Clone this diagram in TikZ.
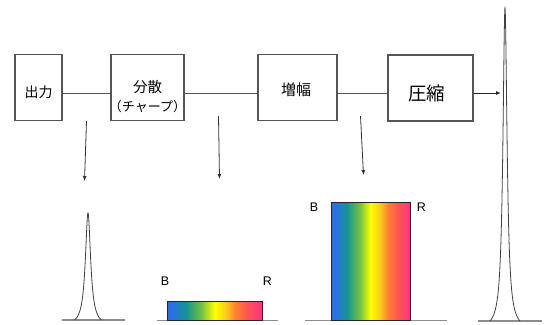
\documentclass[tikz,border=0pt]{standalone}
\usepackage{fontspec}
\setmainfont{Liberation Sans}
\newfontfamily\jp{Noto Sans CJK JP}
\usetikzlibrary{arrows.meta}
\definecolor{boxline}{HTML}{555555}
\definecolor{baseg}{HTML}{8C8C8C}
\definecolor{peakc}{HTML}{404040}
\pgfdeclarehorizontalshading{spectrum}{100bp}{%
  rgb(0bp)=(0.18,0.42,0.92);
  rgb(25bp)=(0.18,0.42,0.92);
  rgb(28bp)=(0.16,0.45,0.88);
  rgb(35bp)=(0.08,0.58,0.56);
  rgb(43bp)=(0.45,0.75,0.25);
  rgb(50bp)=(1,1,0);
  rgb(56bp)=(1,0.78,0.13);
  rgb(61bp)=(1,0.5,0.2);
  rgb(67bp)=(1,0.33,0.33);
  rgb(75bp)=(1,0.2,0.52);
  rgb(100bp)=(1,0.2,0.52)}
\tikzset{
  box/.style={draw=boxline, line width=1.1pt, fill=white, inner sep=0pt},
  jptext/.style={font=\jp, inner sep=0pt, align=center},
  link/.style={draw=boxline, line width=0.9pt},
  downarrow/.style={draw=black!80, line width=0.8pt, -{Latex[length=5pt,width=4pt]}},
  baseline/.style={draw=baseg, line width=1.5pt},
  peak/.style={draw=peakc, line width=0.8pt},
  bar/.style={draw=black!85, line width=0.8pt, shading=spectrum},
  lbl/.style={font=\fontsize{12.5}{14}\selectfont, inner sep=0pt}
}
\begin{document}
\begin{tikzpicture}[x=1pt,y=-1pt]
\useasboundingbox (0,0) rectangle (546,324);
% boxes
\node[box, minimum width=47pt, minimum height=66pt] (out) at (38.5,87.5) {};
\node[box, minimum width=73pt, minimum height=66pt] (disp) at (147.5,87.5) {};
\node[box, minimum width=79pt, minimum height=66pt] (amp) at (297.5,87.5) {};
\node[box, minimum width=85pt, minimum height=66pt] (comp) at (430.5,88) {};
% texts
\node[jptext, font=\jp\fontsize{14}{16}\selectfont] (outT) at (38.5,92) {出力};
\node[jptext, font=\jp\fontsize{14.5}{16}\selectfont] (dispT1) at (147.5,87) {分散};
\node[jptext, font=\jp\fontsize{13}{15}\selectfont] (dispT2) at (147.5,107) {（チャープ）};
\node[jptext, font=\jp\fontsize{15}{17}\selectfont] (ampT) at (296,90) {増幅};
\node[jptext, font=\jp\fontsize{18.5}{20}\selectfont] (compT) at (426.5,93) {圧縮};
% links
\coordinate (ly) at (0,93);
\draw[link] (out.east |- ly) -- (disp.west |- ly);
\draw[link] (disp.east |- ly) -- (amp.west |- ly);
\draw[link] (amp.east |- ly) -- (comp.west |- ly);
\coordinate (p5in) at (501,93);
\draw[draw=black!85, line width=0.9pt, -{Latex[length=5pt,width=4pt]}] (comp.east |- ly) -- (p5in);
% down arrows
\coordinate (a1s) at (86.5,121);
\coordinate (a1e) at (84.5,181);
\coordinate (a2s) at (218.5,116);
\coordinate (a2e) at (219.5,179);
\coordinate (a3s) at (360.5,116);
\coordinate (a3e) at (363.5,175);
\draw[downarrow] (a1s) -- (a1e);
\draw[downarrow] (a2s) -- (a2e);
\draw[downarrow] (a3s) -- (a3e);
% peak 1
\draw[baseline] (62,320) -- (125,320);
\draw[peak] plot[domain=-13.5:13.5, samples=161, smooth]
  ({88+\x}, {320 - 107*(1/(1+(\x/3.2)*(\x/3.2)) - 0.05319)/(1-0.05319)});
% bar 1
\draw[baseline] (157,320.5) -- (278,320.5);
\path[bar] (167,301) rectangle (262,320);
\node[lbl] (b1) at (165,281.5) {B};
\node[lbl] (r1) at (267.5,281.5) {R};
% bar 2
\draw[baseline] (305,320.5) -- (447,320.5);
\path[bar] (331,202) rectangle (410,320);
\node[lbl] (b2) at (314,207.5) {B};
\node[lbl] (r2) at (421.5,207.5) {R};
% peak 5
\draw[baseline] (478,321) -- (542,321);
\draw[peak] plot[domain=-15:15, samples=301, smooth]
  ({505+\x}, {321 - 313*(1/(1+(\x/2.5)*(\x/2.5)) - 0.027027)/(1-0.027027)});
\end{tikzpicture}
\end{document}
